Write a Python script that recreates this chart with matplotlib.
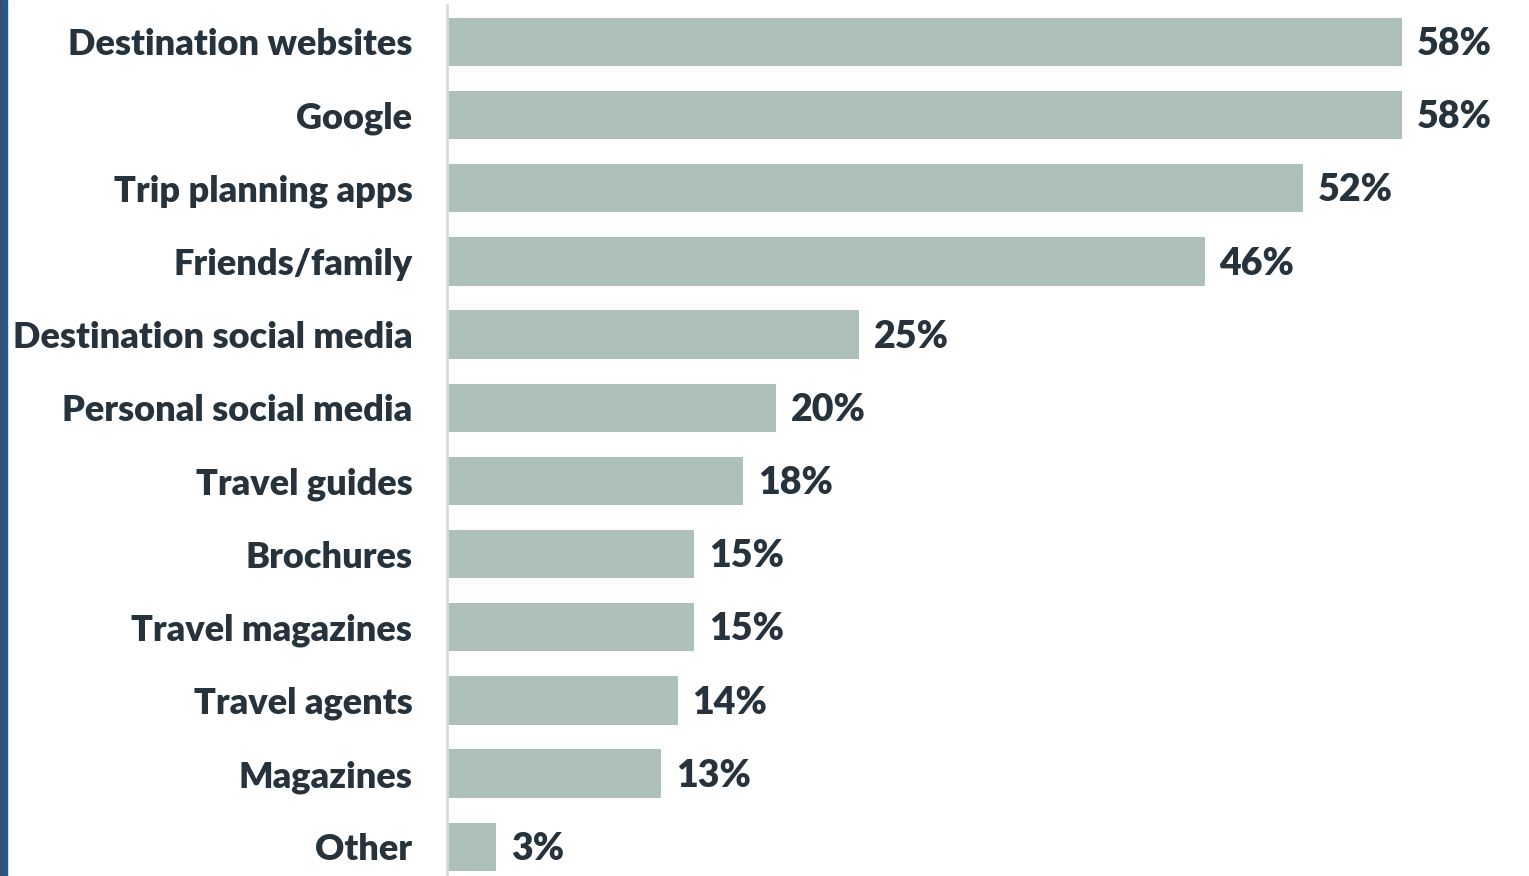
import matplotlib.pyplot as plt
from matplotlib.patches import Rectangle

categories = ["Destination websites", "Google", "Trip planning apps", "Friends/family",
              "Destination social media", "Personal social media", "Travel guides",
              "Brochures", "Travel magazines", "Travel agents", "Magazines", "Other"]
values = [58, 58, 52, 46, 25, 20, 18, 15, 15, 14, 13, 3]

W, H = 1529, 876
bar_color = "#adc0bb"
text_color = "#26333d"
plt.rcParams['font.family'] = ['Lato', 'DejaVu Sans']

fig = plt.figure(figsize=(W / 100, H / 100), dpi=100)
ax = fig.add_axes([447 / W, 0, (W - 447) / W, (H - 5.4) / H])

y = range(len(categories))
ax.barh(y, values, height=0.66, color=bar_color, left=0)
ax.set_xlim(0, (W - 447) / 16.47)
ax.set_ylim(11.40, -0.5)

for i, v in enumerate(values):
    ax.text(v + 0.9, i + 0.03, f"{v}%", va="center", ha="left", fontsize=27,
            fontweight="heavy", color=text_color)

ax.set_yticks(list(y))
ax.set_yticklabels(categories, fontsize=26, fontweight="heavy", color=text_color)
ax.tick_params(axis="y", length=0, pad=25)
ax.set_xticks([])
for s in ["top", "right", "bottom"]:
    ax.spines[s].set_visible(False)
ax.spines["left"].set_color("#d9d9d9")
ax.spines["left"].set_linewidth(2)

# stripe down the left edge
fig.patches.append(Rectangle((0, 0), 3 / W, 1, transform=fig.transFigure,
                             color="#3e4d65", zorder=5))
fig.patches.append(Rectangle((3 / W, 0), 4 / W, 1, transform=fig.transFigure,
                             color="#1f5b8d", zorder=5))

fig.savefig("out.png", dpi=100)
